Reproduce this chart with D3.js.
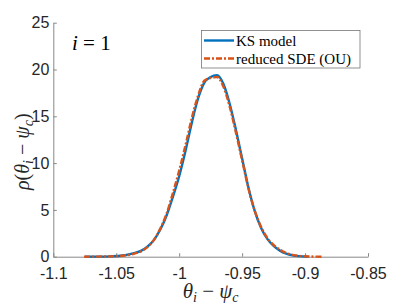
<!DOCTYPE html>
<html>
<head>
<meta charset="utf-8">
<script src="https://cdn.jsdelivr.net/npm/d3@7"></script>
<style>
  html, body { margin: 0; padding: 0; background: #fff; }
  svg { display: block; }
</style>
</head>
<body>
<svg id="chart" width="407" height="305"></svg>
<script>
// ---- data ----
const ksX = [-1.075, -1.065, -1.055, -1.045, -1.04, -1.035, -1.03, -1.025, -1.02, -1.015, -1.01, -1.005, -1.0, -0.995, -0.99, -0.985, -0.98, -0.975, -0.97, -0.965, -0.96, -0.955, -0.95, -0.945, -0.94, -0.935, -0.93, -0.925, -0.92, -0.915, -0.91, -0.905, -0.8975];
const ksY = [0, 0.01, 0.04, 0.13, 0.25, 0.4, 0.65, 1.1, 1.8, 2.9, 4.4, 6.4, 8.6, 11.3, 14.3, 16.9, 18.6, 19.2, 19.4, 18.5, 16.4, 13.6, 10.5, 7.4, 4.9, 3.1, 1.9, 1.15, 0.65, 0.33, 0.15, 0.06, 0];
const ouX = [-1.0755, -1.065, -1.055, -1.045, -1.04, -1.035, -1.03, -1.025, -1.02, -1.015, -1.01, -1.005, -1.0, -0.995, -0.99, -0.985, -0.98, -0.975, -0.97, -0.965, -0.96, -0.955, -0.95, -0.945, -0.94, -0.935, -0.93, -0.925, -0.92, -0.915, -0.91, -0.905, -0.9, -0.893, -0.8863];
const ouY = [0, 0.01, 0.03, 0.1, 0.2, 0.35, 0.6, 1.05, 1.8, 3.0, 4.6, 6.8, 9.2, 11.9, 14.8, 17.2, 18.8, 19.1, 19.2, 18.2, 16.1, 13.3, 10.3, 7.3, 4.9, 3.2, 2.0, 1.25, 0.75, 0.4, 0.2, 0.09, 0.04, 0.01, 0];
const xTicks = [-1.1, -1.05, -1, -0.95, -0.9, -0.85];
const xTickLabels = ["-1.1", "-1.05", "-1", "-0.95", "-0.9", "-0.85"];
const yTicks = [0, 5, 10, 15, 20, 25];
const seriesNames = ["KS model", "reduced SDE (OU)"];

// ---- drawing ----
const svg = d3.select("#chart");
const x = d3.scaleLinear().domain([-1.1, -0.85]).range([53.3, 368]);
const y = d3.scaleLinear().domain([0, 25]).range([256.7, 22.7]);
const axisColor = "#262626";
const tickFont = "'Liberation Sans', Arial, Helvetica, sans-serif";
const serif = "'Liberation Serif', 'Times New Roman', serif";

// axes
const xAxis = d3.axisBottom(x).tickValues(xTicks)
  .tickFormat((d, i) => xTickLabels[i]).tickSizeInner(-3.5).tickSizeOuter(0).tickPadding(10.5);
const gx = svg.append("g").attr("transform", `translate(0,${y(0)})`).call(xAxis);
const yAxis = d3.axisLeft(y).tickValues(yTicks).tickFormat(d3.format("d"))
  .tickSizeInner(-3.5).tickSizeOuter(0).tickPadding(4);
const gy = svg.append("g").attr("transform", `translate(${x(-1.1)},0)`).call(yAxis);
[gx, gy].forEach(g => {
  g.select(".domain").attr("stroke", "#888").attr("stroke-width", 1);
  g.selectAll(".tick line").attr("stroke", "#888").attr("stroke-width", 1);
  g.selectAll(".tick text").attr("fill", axisColor).style("font-family", tickFont).style("font-size", "16px");
});

// lines
const line = d3.line().x(d => x(d[0])).y(d => y(d[1])).curve(d3.curveMonotoneX);
const ksData = ksX.map((v, i) => [v, ksY[i]]);
const ouData = ouX.map((v, i) => [v, ouY[i]]);
svg.append("path").datum(ksData).attr("d", line)
  .attr("fill", "none").attr("stroke", "#0072BD").attr("stroke-width", 2.4);
svg.append("path").datum(ouData).attr("d", line)
  .attr("fill", "none").attr("stroke", "#D95319").attr("stroke-width", 2.4)
  .attr("stroke-dasharray", "6,2,2,2");

// y label
const yl = svg.append("text")
  .attr("transform", `translate(29,${(y(0) + y(25)) / 2 + 12}) rotate(-90)`)
  .attr("text-anchor", "middle")
  .style("font-family", serif).style("font-size", "20px").attr("fill", axisColor);
yl.append("tspan").style("font-style", "italic").text("ρ");
yl.append("tspan").text("(");
yl.append("tspan").style("font-style", "italic").text("θ");
yl.append("tspan").style("font-style", "italic").style("font-size", "14px").attr("dy", 4).text("i");
yl.append("tspan").attr("dy", -4).text(" − ");
yl.append("tspan").style("font-style", "italic").text("ψ");
yl.append("tspan").style("font-style", "italic").style("font-size", "14px").attr("dy", 4).text("c");
yl.append("tspan").attr("dy", -4).text(")");

// x label
const xl = svg.append("text")
  .attr("x", (x(-1.1) + x(-0.85)) / 2).attr("y", 298)
  .attr("text-anchor", "middle")
  .style("font-family", serif).style("font-size", "21px").attr("fill", axisColor);
xl.append("tspan").style("font-style", "italic").text("θ");
xl.append("tspan").style("font-style", "italic").style("font-size", "14px").attr("dy", 4).text("i");
xl.append("tspan").attr("dy", -4).text(" − ");
xl.append("tspan").style("font-style", "italic").text("ψ");
xl.append("tspan").style("font-style", "italic").style("font-size", "14px").attr("dy", 4).text("c");

// annotation i = 1
const ann = svg.append("text").attr("x", 72).attr("y", 50)
  .style("font-family", serif).style("font-size", "21px").attr("fill", "#000");
ann.append("tspan").style("font-style", "italic").text("i");
ann.append("tspan").text(" = 1");

// legend
const lg = svg.append("g");
lg.append("rect").attr("x", 201.5).attr("y", 30.5).attr("width", 158.5).attr("height", 37.5)
  .attr("fill", "#fff").attr("stroke", "#777").attr("stroke-width", 0.8);
const colors = ["#0072BD", "#D95319"];
const dashes = [null, "6,2,2,2"];
seriesNames.forEach((name, i) => {
  const cy = 40.5 + i * 18;
  lg.append("line").attr("x1", 204).attr("x2", 234).attr("y1", cy).attr("y2", cy)
    .attr("stroke", colors[i]).attr("stroke-width", 2.4).attr("stroke-dasharray", dashes[i]);
  lg.append("text").attr("x", 236).attr("y", cy + 5)
    .style("font-family", serif).style("font-size", "15px").attr("fill", "#000").text(name);
});
</script>
</body>
</html>
